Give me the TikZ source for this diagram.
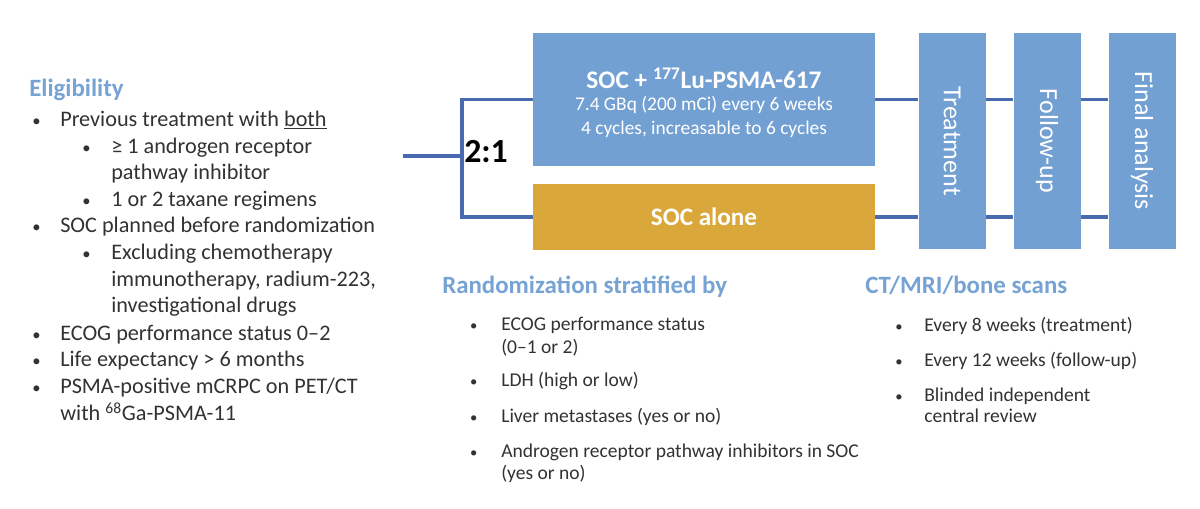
\documentclass[tikz,border=0pt]{standalone}
\usepackage{fontspec}
\setmainfont{Carlito}
\usetikzlibrary{positioning}
\definecolor{armblue}{RGB}{114,160,211}
\definecolor{armgold}{RGB}{218,167,58}
\definecolor{headblue}{RGB}{118,163,212}
\definecolor{linkblue}{RGB}{74,106,176}
\definecolor{bodygray}{RGB}{50,50,50}
\newcommand{\bul}[1]{\llap{\makebox[#1][l]{\scalebox{0.75}{\textbullet}}}}

\begin{document}
\begin{tikzpicture}[
  x=0.025cm, y=-0.025cm,
  head/.style={anchor=mid west, inner sep=0pt, text=headblue,
               font=\fontsize{17.7}{20}\selectfont\bfseries},
  elig/.style={anchor=mid west, inner sep=0pt, text=bodygray,
               font=\fontsize{15.8}{18}\selectfont},
  strat/.style={anchor=mid west, inner sep=0pt, text=bodygray,
                font=\fontsize{13.9}{16}\selectfont},
  arm/.style={minimum width=8.55cm, inner sep=0pt, text=white,
              align=center},
  phase/.style={fill=armblue, minimum width=1.675cm, minimum height=5.4cm,
                inner sep=0pt, text=white, font=\fontsize{18.5}{20}\selectfont},
  link/.style={draw=linkblue, line width=2.2pt}
]
\useasboundingbox (0,0) rectangle (1200,508);

% eligibility list
\node[head] (elighead) at (29,93) {Eligibility};
\node[elig] (el1) at (60,123) {\bul{0.7cm}Previous treatment with \underline{both}};
\node[elig] (el2) at (111,150) {\bul{0.72cm}≥ 1 androgen receptor};
\node[elig] (el3) at (111,176) {pathway inhibitor};
\node[elig] (el4) at (111,203) {\bul{0.72cm}1 or 2 taxane regimens};
\node[elig] (el5) at (60,229) {\bul{0.7cm}SOC planned before randomization};
\node[elig] (el6) at (111,256) {\bul{0.72cm}Excluding chemotherapy};
\node[elig] (el7) at (111,283) {immunotherapy, radium-223,};
\node[elig] (el8) at (111,309) {investigational drugs};
\node[elig] (el9) at (60,337) {\bul{0.7cm}ECOG performance status 0–2};
\node[elig] (el10) at (60,363) {\bul{0.7cm}Life expectancy > 6 months};
\node[elig] (el11) at (60,390) {\bul{0.7cm}PSMA-positive mCRPC on PET/CT};
\node[elig] (el12) at (60,417) {with \textsuperscript{68}Ga-PSMA-11};

% arms
\node[arm, fill=armblue, minimum height=3.325cm,
      font=\fontsize{13.8}{17.5}\selectfont] (lu) at (704,99.5)
  {{\fontsize{18}{20}\selectfont\bfseries\rule{0pt}{19.5pt}SOC + \textsuperscript{177}Lu-PSMA-617}\\[-2pt]
   7.4 GBq (200 mCi) every 6 weeks\\
   4 cycles, increasable to 6 cycles};
\node[arm, fill=armgold, minimum height=1.65cm,
      font=\fontsize{17.9}{20}\selectfont\bfseries] (soc) at (704,217) {SOC alone};
\node[phase] (treat) at (952,141) {\rotatebox{-90}{Treatment}};
\node[phase] (follow) at (1047,141) {\rotatebox{-90}{Follow-up}};
\node[phase] (final) at (1142,141) {\rotatebox{-90}{Final analysis}};

\coordinate (start) at (403,156);
\coordinate (split) at (462,156);
\node[anchor=mid west, inner sep=0pt, font=\fontsize{24}{26}\selectfont\bfseries]
  (ratio) at (464,159) {2:1};
\draw[link] (start) -- (split);
\draw[link] (lu.west) -| (split) |- (soc.west);
\draw[link] (lu.east) -- (lu.east -| treat.west);
\draw[link] (soc.east) -- (soc.east -| treat.west);
\draw[link] (treat.east |- lu.east) -- (follow.west |- lu.east);
\draw[link] (treat.east |- soc.east) -- (follow.west |- soc.east);
\draw[link] (follow.east |- lu.east) -- (final.west |- lu.east);
\draw[link] (follow.east |- soc.east) -- (final.west |- soc.east);

% stratification
\node[head] (strathead) at (442,290) {Randomization stratified by};
\node[strat] (rs1) at (501,327) {\bul{0.78cm}ECOG performance status};
\node[strat] (rs1b) at (501,350) {(0–1 or 2)};
\node[strat] (rs2) at (501,383) {\bul{0.78cm}LDH (high or low)};
\node[strat] (rs3) at (501,419) {\bul{0.78cm}Liver metastases (yes or no)};
\node[strat] (rs4) at (501,454) {\bul{0.78cm}Androgen receptor pathway inhibitors in SOC};
\node[strat] (rs4b) at (501,476) {(yes or no)};

% imaging
\node[head] (scanhead) at (865,290) {CT/MRI/bone scans};
\node[strat] (ct1) at (924,328) {\bul{0.72cm}Every 8 weeks (treatment)};
\node[strat] (ct2) at (924,363) {\bul{0.72cm}Every 12 weeks (follow-up)};
\node[strat] (ct3) at (924,398) {\bul{0.72cm}Blinded independent};
\node[strat] (ct3b) at (924,419) {central review};
\end{tikzpicture}
\end{document}
